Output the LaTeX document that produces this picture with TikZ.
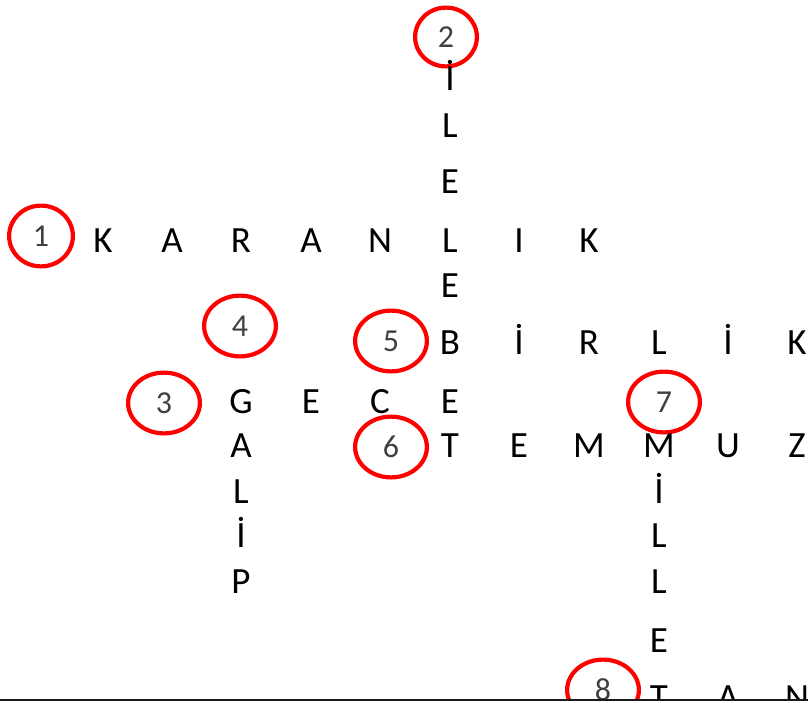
\documentclass[tikz,border=0pt]{standalone}
\usepackage{fontspec}
\setmainfont{Carlito}
\usetikzlibrary{shapes.geometric}
\begin{document}
\begin{tikzpicture}[x=1pt,y=-1pt,
  letter/.style={anchor=base, inner sep=0pt, font=\fontsize{37}{37}\selectfont, text=black},
  numcirc/.style={ellipse, draw=red, line width=4.2pt, inner sep=0pt,
    minimum width=71.8pt, minimum height=60.8pt, text=black!75,
    font=\fontsize{32}{32}\selectfont},
  numsmall/.style={numcirc, minimum width=63.8pt},
  numtiny/.style={numcirc, minimum width=61.8pt, minimum height=58.8pt}]
\useasboundingbox (0,0) rectangle (808,702);
\begin{scope}
\clip (0,0) rectangle (808,699);
% numbered circles
\node[numsmall] (c1) at (41,236) {1};
\node[numtiny]  (c2) at (446,37) {2};
\node[numcirc]  (c3) at (164,403) {3};
\node[numcirc]  (c4) at (240,326) {4};
\node[numcirc]  (c5) at (391,341) {5};
\node[numcirc]  (c6) at (391,447) {6};
\node[numcirc]  (c7) at (664,402) {7};
\node[numcirc]  (c8) at (603,690) {8};
% 1 KARANLIK
\foreach \ch/\x [count=\i] in {K/103,A/172,R/241,A/311,N/380,L/450,I/519,K/589}
  \node[letter] (a\i) at (\x,252) {\ch};
% 2 ILELEBET (column)
\foreach \ch/\y [count=\i] in {İ/90,L/137,E/193,E/297,B/354,E/413,T/457}
  \node[letter] (b\i) at (450,\y) {\ch};
% 5 BIRLIK
\foreach \ch/\x [count=\i] in {İ/519,R/589,L/659,İ/728,K/797}
  \node[letter] (e\i) at (\x,354) {\ch};
% 3 GECE
\foreach \ch/\x [count=\i] in {G/241,E/311,C/380}
  \node[letter] (g\i) at (\x,413) {\ch};
% 4 GALIP (column)
\foreach \ch/\y [count=\i] in {A/457,L/503,İ/547,P/593}
  \node[letter] (p\i) at (241,\y) {\ch};
% 6 TEMMUZ
\foreach \ch/\x [count=\i] in {E/519,M/589,M/659,U/728,Z/797}
  \node[letter] (t\i) at (\x,457) {\ch};
% 7 MILLET (column)
\foreach \ch/\y [count=\i] in {İ/503,L/547,L/593,E/652,T/709}
  \node[letter] (m\i) at (659,\y) {\ch};
% 8 TAN...
\foreach \ch/\x [count=\i] in {A/728,N/797}
  \node[letter] (n\i) at (\x,709) {\ch};
\end{scope}
\draw[line width=2pt, black!90] (0,700) -- (808,700);
\end{tikzpicture}
\end{document}
